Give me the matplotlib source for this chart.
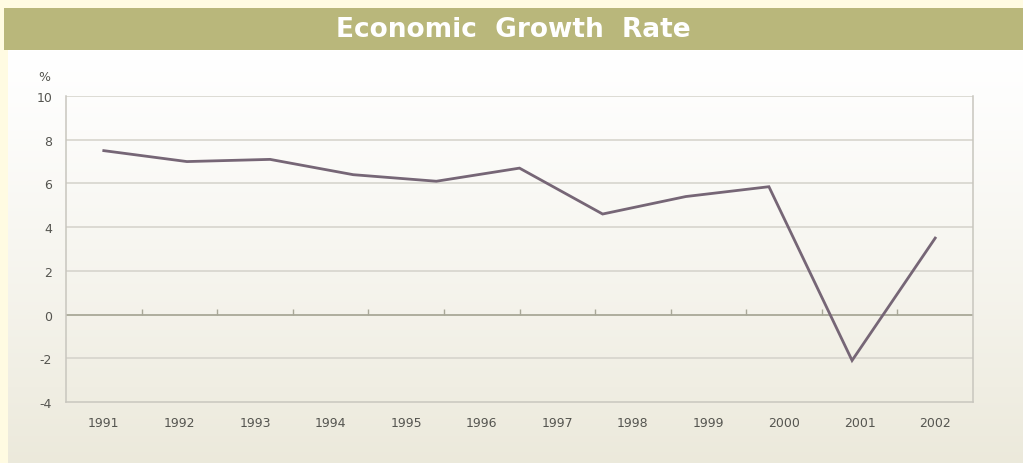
import numpy as np
import matplotlib.pyplot as plt

years = ["1991", "1992", "1993", "1994", "1995", "1996",
         "1997", "1998", "1999", "2000", "2001", "2002"]
growth = [7.5, 7.0, 7.1, 6.4, 6.1, 6.7, 4.6, 5.4, 5.85, -2.1, 3.5]
y_ticks = [-4, -2, 0, 2, 4, 6, 8, 10]

W, H = 1023, 464
fig = plt.figure(figsize=(W / 100, H / 100), dpi=100)
fig.patch.set_facecolor("#fffbe2")

# panel with soft vertical gradient
bg = fig.add_axes([8 / W, 0, 1 - 8 / W, (H - 51) / H])
grad = np.linspace(0, 1, 256).reshape(-1, 1)
top_c = np.array([1.0, 1.0, 1.0])
bot_c = np.array([0.925, 0.915, 0.86])
img = top_c + (bot_c - top_c) * grad[:, :, None] ** 1.2
bg.imshow(img, aspect="auto", extent=[0, 1, 0, 1], origin="upper")
bg.axis("off")

# olive title band
band = fig.add_axes([4 / W, (H - 51) / H, 1 - 4 / W, 42 / H])
band.set_facecolor("#b9b77b")
band.set_xticks([])
band.set_yticks([])
for s in band.spines.values():
    s.set_visible(False)
band.text(0.5, 0.5, "Economic  Growth  Rate", color="white", fontsize=19,
          fontweight="semibold", ha="center", va="center", family="DejaVu Sans",
          transform=band.transAxes)

ax = fig.add_axes([66 / W, (H - 403) / H, (973 - 66) / W, (403 - 97) / H])
ax.patch.set_alpha(0)

n = len(years)
xs = np.linspace(0, n - 1, len(growth))
ax.plot(xs, growth, color="#766676", lw=2.0, solid_joinstyle="miter", zorder=3)

ax.set_xlim(-0.5, n - 0.5)
ax.set_ylim(-4, 10)
ax.set_yticks(y_ticks)
ax.set_yticklabels([str(v) for v in y_ticks])
ax.set_xticks(range(n))
ax.set_xticklabels(years)
ax.tick_params(axis="both", length=0, labelsize=9, colors="#555550")
ax.tick_params(axis="x", pad=10)
ax.tick_params(axis="y", pad=10)

for v in y_ticks:
    if v == 0:
        ax.axhline(v, color="#a8a898", lw=1.3, zorder=2)
    elif v != -4:
        ax.axhline(v, color="#d4d2ca", lw=1.1, zorder=1)

bounds = np.arange(0.5, n - 0.5, 1)
ax.vlines(bounds, 0, 0.25, color="#a8a898", lw=1.0, zorder=2)

for side in ["left", "right", "bottom"]:
    ax.spines[side].set_color("#c8c6be")
    ax.spines[side].set_linewidth(1.1)
ax.spines["top"].set_visible(False)

ax.text(-0.024, 1.065, "%", transform=ax.transAxes, fontsize=9,
        color="#555550", ha="center", va="center")

fig.savefig("out.png", dpi=100, facecolor=fig.get_facecolor())
